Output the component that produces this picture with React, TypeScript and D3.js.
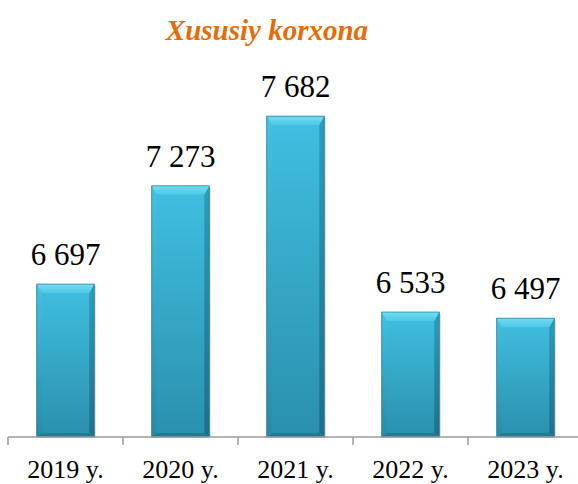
import React from "react";
import * as d3 from "d3";

const categories = ["2019 y.", "2020 y.", "2021 y.", "2022 y.", "2023 y."];
const values = [6697, 7273, 7682, 6533, 6497];
const valueLabels = ["6 697", "7 273", "7 682", "6 533", "6 497"];
const title = "Xususiy korxona";

const W = 578;
const H = 484;
const FONT = "Liberation Serif, Times New Roman, Tinos, Noto Serif, DejaVu Serif, serif";

export default function App() {
  const x = d3.scaleBand<string>().domain(categories).range([8, 583]).paddingInner(0.5).paddingOuter(0.25);
  const y = d3.scaleLinear().domain([5800, 7800]).range([437, 96]);
  const base = y(5800);
  const bw = x.bandwidth();
  const bevT = 9;
  const bevS = 5;
  const bevB = 4;
  const step = x.step();
  const tickXs = categories.map((c) => (x(c) as number) - step * 0.25);
  tickXs.push((x(categories[categories.length - 1]) as number) + bw + step * 0.25);

  return (
    <svg width={W} height={H} fontFamily={FONT} style={{ position: "absolute", left: 0, top: 0, fontFamily: FONT }}>
      <defs>
        <linearGradient id="body" x1="0" y1="0" x2="0" y2="1">
          <stop offset="0" stopColor="#40bfe0" />
          <stop offset="1" stopColor="#2a90ae" />
        </linearGradient>
        <linearGradient id="topb" x1="0" y1="0" x2="0" y2="1">
          <stop offset="0" stopColor="#74dcf2" />
          <stop offset="1" stopColor="#4cc8e6" />
        </linearGradient>
        <linearGradient id="left" x1="0" y1="0" x2="0" y2="1">
          <stop offset="0" stopColor="#44c2e2" />
          <stop offset="1" stopColor="#2a8aa7" />
        </linearGradient>
        <linearGradient id="right" x1="0" y1="0" x2="0" y2="1">
          <stop offset="0" stopColor="#2d9dbc" />
          <stop offset="1" stopColor="#1f6f88" />
        </linearGradient>
      </defs>
      <text x={267} y={40} textAnchor="middle" fontFamily={FONT} style={{ fontFamily: FONT }} fontWeight="bold" fontStyle="italic" fontSize={29} fill="#e46c0a">
        {title}
      </text>
      {categories.map((c, i) => {
        const x0 = x(c) as number;
        const x1 = x0 + bw;
        const y0 = y(values[i]);
        const y1 = base;
        return (
          <g key={c}>
            <rect x={x0 + 1.5} y={y0 + 2} width={bw} height={y1 - y0 - 2} fill="#000" opacity={0.15} />
            <rect x={x0} y={y0} width={bw} height={y1 - y0} fill="url(#body)" />
            <polygon points={`${x0},${y0} ${x0 + bevS},${y0 + bevT} ${x0 + bevS},${y1 - bevB} ${x0},${y1}`} fill="url(#left)" />
            <polygon points={`${x1},${y0} ${x1 - bevS},${y0 + bevT} ${x1 - bevS},${y1 - bevB} ${x1},${y1}`} fill="url(#right)" />
            <polygon points={`${x0},${y1} ${x0 + bevS},${y1 - bevB} ${x1 - bevS},${y1 - bevB} ${x1},${y1}`} fill="#247a94" />
            <polygon points={`${x0},${y0} ${x1},${y0} ${x1 - bevS},${y0 + bevT} ${x0 + bevS},${y0 + bevT}`} fill="url(#topb)" />
            <rect x={x0} y={y0} width={bw} height={y1 - y0} fill="none" stroke="#1f7690" strokeWidth={0.7} />
            <text x={x0 + bw / 2} y={y0 - 19} textAnchor="middle" fontFamily={FONT} style={{ fontFamily: FONT }} fontSize={31} fill="#000">
              {valueLabels[i]}
            </text>
            <text x={x0 + bw / 2} y={478} textAnchor="middle" fontFamily={FONT} style={{ fontFamily: FONT }} fontSize={26} fill="#000">
              {c}
            </text>
          </g>
        );
      })}
      <line x1={8} x2={W} y1={base} y2={base} stroke="#9a9a9a" strokeWidth={1.5} />
      {tickXs.map((tx, i) => (
        <line key={i} x1={tx} x2={tx} y1={base} y2={base + 8} stroke="#9a9a9a" strokeWidth={1.5} />
      ))}
    </svg>
  );
}
